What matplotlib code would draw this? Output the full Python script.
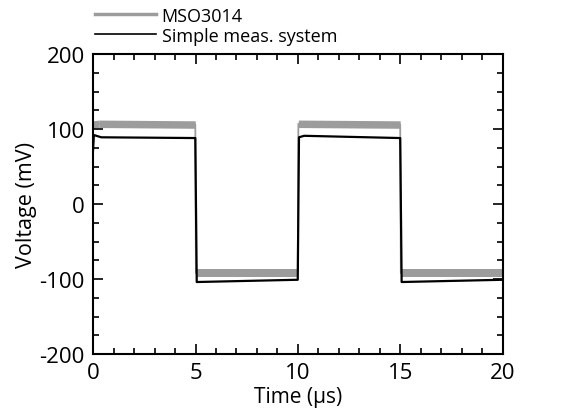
import matplotlib
matplotlib.use("Agg")
import matplotlib.pyplot as plt
from matplotlib.ticker import MultipleLocator

plt.rcParams['font.family'] = ['Open Sans', 'DejaVu Sans']
plt.rcParams['axes.unicode_minus'] = False

# corner points of the two measured square waves (time in us, voltage in mV)
t_mso = [0.0, 0.3, 4.99, 5.02, 9.99, 10.02, 14.99, 15.02, 20.0]
v_mso = [106, 107, 106, -92, -92, 107, 106, -92, -92]
mso_noise = 5  # half height of the noise band on the flat parts

t_simple = [0.0, 0.04, 0.4, 4.99, 5.06, 9.99, 10.05, 10.3, 14.99, 15.06, 20.0]
v_simple = [72, 92, 89, 88, -104, -101, 89, 91, 88, -104, -101]

fig = plt.figure(figsize=(5.78, 4.14), dpi=100)
ax = fig.add_axes([0.161, 0.1425, 0.709, 0.7245])

ax.plot(t_mso, v_mso, color='#9c9c9c', lw=1.3, label='MSO3014')
# noise band on each flat level
for i in range(0, len(t_mso) - 1):
    if abs(v_mso[i + 1] - v_mso[i]) < 20:
        ax.fill_between([t_mso[i], t_mso[i + 1]],
                        [v_mso[i] - mso_noise, v_mso[i + 1] - mso_noise],
                        [v_mso[i] + mso_noise, v_mso[i + 1] + mso_noise],
                        color='#9c9c9c', lw=0)
ax.plot(t_simple, v_simple, color='black', lw=1.6, label='Simple meas. system')

ax.set_xlim(0, 20)
ax.set_ylim(-200, 200)
ax.xaxis.set_major_locator(MultipleLocator(5))
ax.xaxis.set_minor_locator(MultipleLocator(1))
ax.yaxis.set_major_locator(MultipleLocator(100))
ax.yaxis.set_minor_locator(MultipleLocator(25))
ax.tick_params(which='both', direction='in', top=True, right=True, width=1.2)
ax.tick_params(which='major', length=7, labelsize=16, pad=6)
ax.tick_params(which='minor', length=4)
for s in ax.spines.values():
    s.set_linewidth(1.5)

ax.set_xlabel('Time (\u00b5s)', fontsize=15, labelpad=2)
ax.set_ylabel('Voltage (mV)', fontsize=15.5, labelpad=2)

leg = fig.legend(loc='upper left', bbox_to_anchor=(0.158, 0.99), frameon=False,
                 fontsize=13, handlelength=3.4, handletextpad=0.3, labelspacing=0.1,
                 borderaxespad=0, borderpad=0.2)
leg.get_lines()[0].set_linewidth(2.5)
leg.get_lines()[1].set_linewidth(1.2)

fig.savefig('out.png', dpi=100)
